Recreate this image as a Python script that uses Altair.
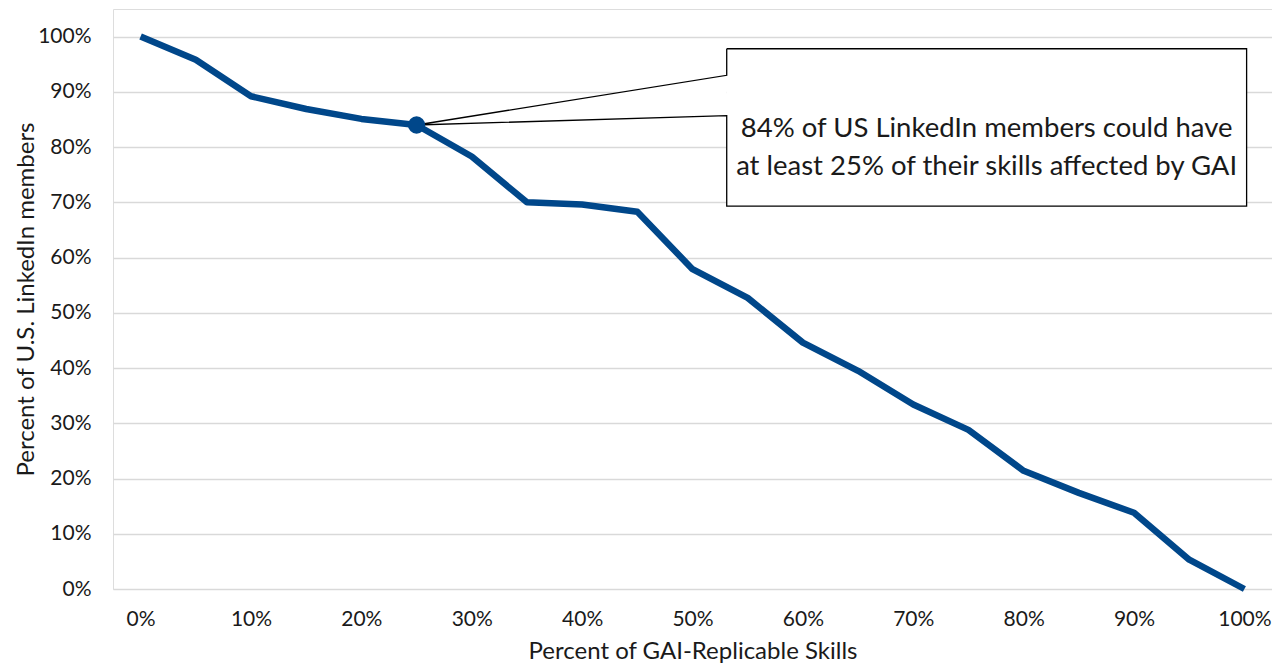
import altair as alt
import pandas as pd

# ---- data ----
skills_pct = [0, 5, 10, 15, 20, 25, 30, 35, 40, 45, 50, 55, 60, 65, 70, 75, 80, 85, 90, 95, 100]
members_pct = [100, 95.8, 89.2, 86.9, 85.1, 84.0, 78.3, 70.0, 69.6, 68.3, 57.9, 52.7,
               44.6, 39.5, 33.4, 28.8, 21.4, 17.4, 13.8, 5.3, 0]
x_ticks = [0, 10, 20, 30, 40, 50, 60, 70, 80, 90, 100]
y_ticks = [0, 10, 20, 30, 40, 50, 60, 70, 80, 90, 100]

highlight_x = [25]
highlight_y = [84]

# callout (in data units)
box_x = [53.1, 100.2]
box_y = [69.3, 97.8]
wedge_y = [85.7, 93.0]
text_pos = [76.65, 83.2]
callout_lines = ["84% of US LinkedIn members could have",
                 "at least 25% of their skills affected by GAI"]

FONT = "Lato"
BLUE = "#00478a"
INK = "#1a1a1a"

df = pd.DataFrame({"x": skills_pct, "y": members_pct})
pt = pd.DataFrame({"x": highlight_x, "y": highlight_y})

xs = alt.Scale(domain=[-2.5, 102.5], nice=False, zero=False)
ys = alt.Scale(domain=[0, 105], nice=False, zero=False)

x_axis = alt.Axis(values=x_ticks, labelExpr="datum.value + '%'", grid=False,
                  ticks=False, tickSize=0, domain=False, labelPadding=19,
                  labelFontSize=21, labelFont=FONT, labelColor=INK,
                  title="Percent of GAI-Replicable Skills", titleFont=FONT,
                  titleFontSize=24, titleFontWeight="normal", titleColor=INK,
                  titleY=62, titleBaseline="middle")
y_axis = alt.Axis(values=y_ticks, labelExpr="datum.value + '%'", grid=True,
                  gridColor="#d9d9d9", gridWidth=1.5,
                  ticks=False, tickSize=0, domain=False, labelPadding=22,
                  labelFontSize=21, labelFont=FONT, labelColor=INK,
                  title="Percent of U.S. LinkedIn members", titleFont=FONT,
                  titleFontSize=24, titleFontWeight="normal", titleColor=INK,
                  titleX=-87, titleBaseline="middle", titleAngle=-90)

line = alt.Chart(df).mark_line(color=BLUE, strokeWidth=6.5, strokeJoin="round").encode(
    x=alt.X("x:Q", scale=xs, axis=x_axis),
    y=alt.Y("y:Q", scale=ys, axis=y_axis),
)

dot = alt.Chart(pt).mark_point(filled=True, color=BLUE, size=300, opacity=1).encode(
    x=alt.X("x:Q", scale=xs), y=alt.Y("y:Q", scale=ys))

# callout box fill
box_df = pd.DataFrame({"x": [box_x[0]], "x2": [box_x[1]], "y": [box_y[0]], "y2": [box_y[1]]})
box = alt.Chart(box_df).mark_rect(fill="white").encode(
    x=alt.X("x:Q", scale=xs), x2="x2", y=alt.Y("y:Q", scale=ys), y2="y2")

# wedge fill
wedge_df = pd.DataFrame({"x": [highlight_x[0], box_x[0]],
                         "y": [highlight_y[0], wedge_y[0]],
                         "y2": [highlight_y[0], wedge_y[1]]})
wedge = alt.Chart(wedge_df).mark_area(color="white", opacity=1).encode(
    x=alt.X("x:Q", scale=xs), y=alt.Y("y:Q", scale=ys), y2="y2")

# outline path
outline_df = pd.DataFrame({
    "x": [box_x[0], box_x[1], box_x[1], box_x[0], box_x[0], highlight_x[0], box_x[0], box_x[0]],
    "y": [box_y[1], box_y[1], box_y[0], box_y[0], wedge_y[0], highlight_y[0], wedge_y[1], box_y[1]],
    "o": list(range(8)),
})
outline = alt.Chart(outline_df).mark_line(color="black", strokeWidth=1.3, strokeJoin="miter").encode(
    x=alt.X("x:Q", scale=xs), y=alt.Y("y:Q", scale=ys), order="o:Q")

txt_df = pd.DataFrame({"x": [text_pos[0]], "y": [text_pos[1]], "t": [callout_lines]})
txt = alt.Chart(txt_df).mark_text(font=FONT, fontSize=27.5, lineHeight=38, color=INK,
                                  align="center", baseline="middle").encode(
    x=alt.X("x:Q", scale=xs), y=alt.Y("y:Q", scale=ys), text="t")

chart = alt.layer(box, wedge, outline, line, dot, txt).properties(
    width=1159, height=580,
    autosize=alt.AutoSizeParams(type="none"),
    padding={"left": 105, "top": 1, "right": 0, "bottom": 76},
).configure_view(stroke="black", strokeWidth=2).configure(background="white")

chart.save("out.html", embed_options={"renderer": "svg", "actions": False})
